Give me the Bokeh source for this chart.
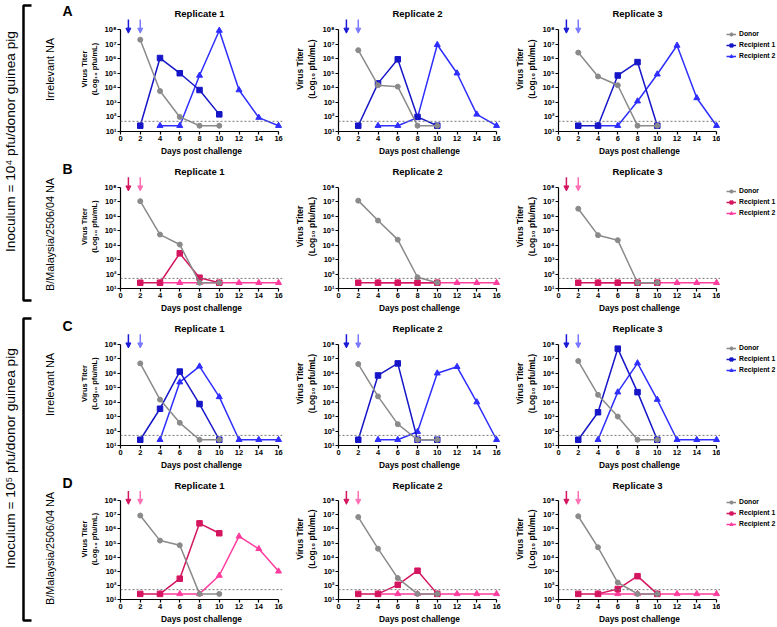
import math
from bokeh.plotting import figure
from bokeh.layouts import row, column
from bokeh.models import (Range1d, FixedTicker, Span, Arrow, NormalHead, Label,
                          Legend, LegendItem, CustomJSTickFormatter, ColumnDataSource)
from bokeh.embed import file_html
from bokeh.resources import INLINE

# ---------------- data ----------------
days_donor = [2, 4, 6, 8, 10]
days_rec1 = [2, 4, 6, 8, 10]
days_rec2 = [4, 6, 8, 10, 12, 14, 16]
x_ticks = [0, 2, 4, 6, 8, 10, 12, 14, 16]
y_ticks = [1e1, 1e2, 1e3, 1e4, 1e5, 1e6, 1e7, 1e8]
y_tick_labels = ["10¹", "10²", "10³", "10⁴", "10⁵", "10⁶", "10⁷", "10⁸"]
LOD = 50
arrow_days = [0.8, 2]
panel_letters = ["A", "B", "C", "D"]
replicates = ["Replicate 1", "Replicate 2", "Replicate 3"]
row_labels = ["Irrelevant NA", "B/Malaysia/2506/04 NA", "Irrelevant NA", "B/Malaysia/2506/04 NA"]
group_labels = ["Inoculum = 10⁴ pfu/donor guinea pig", "Inoculum = 10⁵ pfu/donor guinea pig"]
series_names = ["Donor", "Recipient 1", "Recipient 2"]
x_label = "Days post challenge"
y_label = "Virus Titer\n(Log₁₀ pfu/mL)"

# panel A: 10^4 inoculum, irrelevant NA
donor_A = [[2e7, 6e3, 100, 25, 25], [3.8e6, 1.5e4, 1.2e4, 25, 25], [2.6e6, 6e4, 1.5e4, 25, 25]]
rec1_A = [[25, 1.1e6, 1e5, 7e3, 150], [25, 2e4, 9e5, 100, 25], [25, 25, 7e4, 5.8e5, 25]]
rec2_A = [[25, 25, 7e4, 8.5e7, 7e3, 90, 25], [25, 25, 90, 9e6, 1e5, 150, 25],
          [25, 25, 1.2e3, 8.5e4, 8e6, 2e3, 25]]
# panel B: 10^4 inoculum, B/Malaysia NA
donor_B = [[1.1e7, 5.4e4, 1.1e4, 25, 25], [1.2e7, 5e5, 2.4e4, 60, 25], [3.3e6, 4.9e4, 2.2e4, 25, 25]]
rec1_B = [[25, 25, 2.7e3, 56, 25], [25, 25, 25, 25, 25], [25, 25, 25, 25, 25]]
rec2_B = [[25, 25, 25, 25, 25, 25, 25], [25, 25, 25, 25, 25, 25, 25], [25, 25, 25, 25, 25, 25, 25]]
# panel C: 10^5 inoculum, irrelevant NA
donor_C = [[4.8e6, 1.5e4, 370, 25, 25], [4.3e6, 2.5e4, 300, 25, 25], [7e6, 3.2e4, 1e3, 25, 25]]
rec1_C = [[25, 3.5e3, 1.3e6, 7.4e3, 25], [25, 7e5, 4.8e6, 25, 25], [25, 2e3, 5e7, 4.9e4, 25]]
rec2_C = [[25, 2.4e5, 3e6, 2.3e4, 25, 25, 25], [25, 25, 90, 1e6, 2.8e6, 1e4, 25],
          [25, 4.9e4, 5e6, 1.5e4, 25, 25, 25]]
# panel D: 10^5 inoculum, B/Malaysia NA
donor_D = [[9e6, 1.5e5, 7e4, 25, 25], [7e6, 4e4, 330, 25, 25], [8e6, 5e4, 160, 25, 25]]
rec1_D = [[25, 25, 300, 2.5e6, 5e5], [25, 25, 110, 1.1e3, 25], [25, 25, 55, 450, 25]]
rec2_D = [[25, 25, 25, 500, 3e5, 3.9e4, 1e3], [25, 25, 25, 25, 25, 25, 25], [25, 25, 25, 25, 25, 25, 25]]

donors = [donor_A, donor_B, donor_C, donor_D]
rec1s = [rec1_A, rec1_B, rec1_C, rec1_D]
rec2s = [rec2_A, rec2_B, rec2_C, rec2_D]
arrows_shown = [[1, 1, 1], [1, 0, 1], [1, 1, 1], [1, 1, 1]]

# ---------------- style / layout ----------------
FONT = "Liberation Sans"
GRAY = "#8a8a8a"
BLUE_SET = {"r1": "#1616c8", "r2": "#2e2eff", "a1": "#1a1ad6", "a2": "#7a7aff"}
PINK_SET = {"r1": "#d4155f", "r2": "#ff3d9e", "a1": "#d4155f", "a2": "#ff6fb4"}
row_colors = [BLUE_SET, PINK_SET, BLUE_SET, PINK_SET]

FW = 162            # frame width (x range 0..16.4)
FH = 125            # frame height
TOP = 6
DEC = 102.0 / 7.0   # pixels per decade
Y_TOP = 10 ** (1 + FH / DEC)
ROW_H = [158, 157, 157, 154]
ANN_W = 74
LEFTS = [46, 48, 50]
RIGHTS = [8, 8, 0]
LEG_W = 777 - ANN_W - sum(LEFTS) - 3 * FW - sum(RIGHTS)
LEG_TOP = 29.5      # legend top below the row top
LEG_H = 30
YLAB_SIZE = ["7.5px", "8.5px", "8.5px"]

MARKERS = ["circle", "square", "triangle"]
SIZES = [5, 5.5, 6]

fmt = CustomJSTickFormatter(args=dict(labels=y_tick_labels),
                            code="return labels[Math.round(Math.log10(tick)) - 1];")


def make_panel(r, c):
    H = ROW_H[r]
    cs = row_colors[r]
    p = figure(width=LEFTS[c] + FW + RIGHTS[c], height=H,
               x_range=Range1d(0, 16.4), y_range=Range1d(10, Y_TOP),
               y_axis_type="log", output_backend="svg", toolbar_location=None,
               min_border_left=LEFTS[c], min_border_right=RIGHTS[c],
               min_border_top=TOP, min_border_bottom=H - TOP - FH)
    p.outline_line_color = None
    p.grid.visible = False

    for ax in (p.xaxis, p.yaxis):
        ax.axis_line_color = "black"
        ax.axis_line_width = 1.2
        ax.major_tick_line_color = "black"
        ax.major_tick_line_width = 1.2
        ax.major_tick_in = 0
        ax.major_tick_out = 3
        ax.minor_tick_line_color = None
        ax.major_label_text_font = FONT
        ax.major_label_text_font_style = "bold"
        ax.major_label_text_font_size = "7.5px"
        ax.major_label_text_color = "black"
        ax.major_label_standoff = 1
        ax.axis_label_text_font = FONT
        ax.axis_label_text_font_style = "bold"
        ax.axis_label_text_color = "black"
        ax.axis_label_standoff = 2
    p.xaxis.ticker = FixedTicker(ticks=x_ticks)
    p.xaxis.bounds = (0, 16)
    p.xaxis.axis_label = x_label
    p.xaxis.axis_label_text_font_size = "8.4px"
    p.yaxis.ticker = FixedTicker(ticks=y_ticks)
    p.yaxis.formatter = fmt
    p.yaxis.bounds = (10, 1e8)
    p.yaxis.axis_label = y_label
    p.yaxis.axis_label_text_font_size = YLAB_SIZE[c]

    p.add_layout(Span(location=LOD, dimension="width", line_color="#777777",
                      line_dash="2 2", line_width=1))

    series = [(days_rec2, rec2s[r][c], cs["r2"], 2), (days_rec1, rec1s[r][c], cs["r1"], 1),
              (days_donor, donors[r][c], GRAY, 0)]
    for xs, ys, col, k in series:
        src = ColumnDataSource(dict(x=xs, y=ys))
        p.line("x", "y", source=src, line_color=col, line_width=1.5)
        p.scatter("x", "y", source=src, marker=MARKERS[k], size=SIZES[k], color=col)

    if arrows_shown[r][c]:
        for k, d in enumerate(arrow_days):
            col = cs["a1"] if k == 0 else cs["a2"]
            p.add_layout(Arrow(end=NormalHead(size=5, fill_color=col, line_color=col),
                               x_start=d, y_start=10 ** 8.69, x_end=d, y_end=10 ** 7.75,
                               line_color=col, line_width=1.5))

    p.add_layout(Label(x=8, y=10 ** 9.1, text=replicates[c],
                       text_align="center", text_baseline="middle", text_font=FONT,
                       text_font_style="bold", text_font_size="9.5px", text_color="black"))
    return p


def make_legend(r):
    H = ROW_H[r]
    cs = row_colors[r]
    cols = [GRAY, cs["r1"], cs["r2"]]
    lf = figure(width=LEG_W, height=H, x_range=Range1d(0, 1), y_range=Range1d(0, 1),
                x_axis_type=None, y_axis_type=None, output_backend="svg",
                toolbar_location=None, min_border=0)
    lf.outline_line_color = None
    items = []
    for k in range(3):
        # a single NaN row: nothing is drawn, but the legend glyph can be rendered
        src = ColumnDataSource(dict(x=[float("nan")], y=[float("nan")]))
        ln = lf.line("x", "y", source=src, line_color=cols[k], line_width=1.5)
        mk = lf.scatter("x", "y", source=src, marker=MARKERS[k], size=SIZES[k], color=cols[k])
        items.append(LegendItem(label=series_names[k], renderers=[ln, mk]))
    # frame is aligned with the row's panels: its bottom lies TOP + FH below the row top
    leg = Legend(items=items, location=(6, TOP + FH - LEG_TOP - LEG_H), orientation="vertical",
                 label_text_font=FONT, label_text_font_style="bold",
                 label_text_font_size="6.8px", label_text_color="black",
                 glyph_width=10, glyph_height=8, label_height=8, label_standoff=3,
                 spacing=3, padding=0, margin=0, border_line_alpha=0,
                 background_fill_alpha=0)
    lf.add_layout(leg)
    return lf


grid_rows = []
for r in range(4):
    grid_rows.append(row(*([make_panel(r, c) for c in range(3)] + [make_legend(r)])))
grid = column(*grid_rows)

# ---------------- left annotations ----------------
TOTAL_H = sum(ROW_H)
row_tops = [0, 158, 315, 472]
ann = figure(width=ANN_W, height=TOTAL_H, x_range=Range1d(0, ANN_W), y_range=Range1d(TOTAL_H, 0),
             x_axis_type=None, y_axis_type=None, output_backend="svg",
             toolbar_location=None, min_border=0)
ann.outline_line_color = None
ann.multi_line(xs=[[31, 23, 23, 31], [31, 23, 23, 31]],
               ys=[[5, 5, 300, 300], [318, 318, 620, 620]],
               line_color="black", line_width=2.5)
for yc, txt in zip([141, 458], group_labels):
    ann.add_layout(Label(x=10, y=yc, text=txt, angle=math.pi / 2, text_align="center",
                         text_baseline="middle", text_font=FONT, text_font_size="13.7px",
                         text_color="black"))
for k, txt in enumerate(row_labels):
    ann.add_layout(Label(x=49, y=row_tops[k] + (69 if k % 2 == 0 else 76), text=txt,
                         angle=math.pi / 2, text_align="center", text_baseline="middle",
                         text_font=FONT, text_font_size="10.8px", text_color="black"))
for k, txt in enumerate(panel_letters):
    ann.add_layout(Label(x=62, y=row_tops[k] + 10, text=txt, text_align="left",
                         text_baseline="middle", text_font=FONT, text_font_style="bold",
                         text_font_size="14px", text_color="black"))

layout = row(ann, grid)
open("out.html", "w").write(file_html(layout, INLINE))
